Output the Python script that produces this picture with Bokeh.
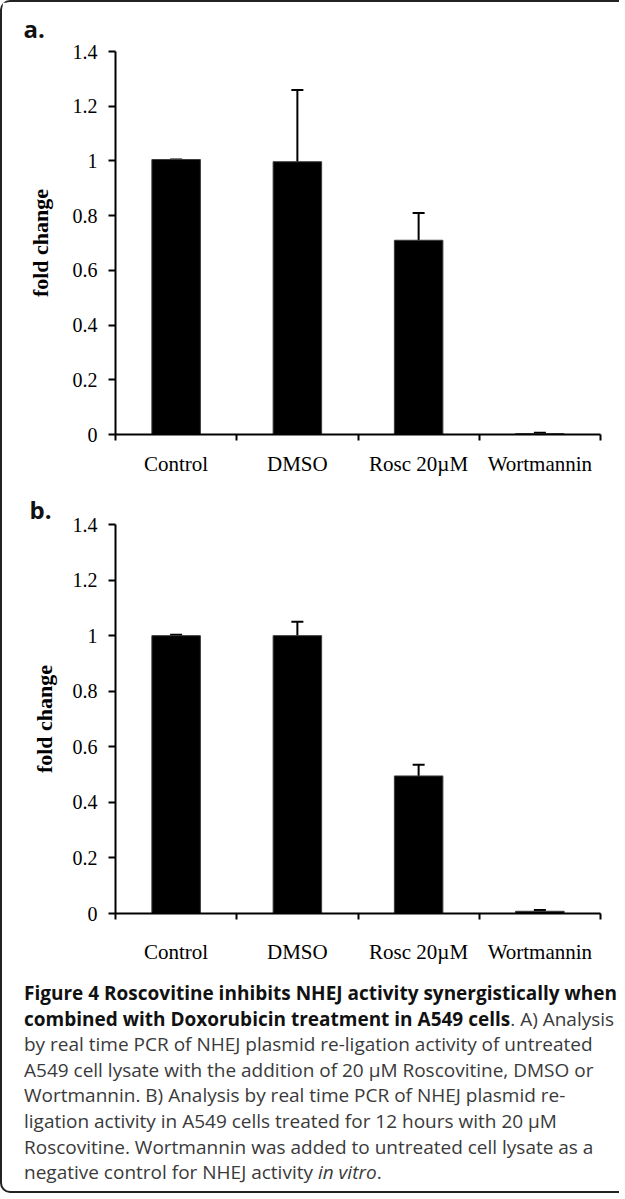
from bokeh.plotting import figure
from bokeh.models import (ColumnDataSource, Whisker, TeeHead, FixedTicker, Range1d,
                          Div, CustomJSTickFormatter, InlineStyleSheet)
from bokeh.layouts import column
from bokeh.embed import file_html
from bokeh.resources import INLINE

# ---- data ----
categories = ["Control", "DMSO", "Rosc 20\u00b5M", "Wortmannin"]
values_a = [1.005, 0.997, 0.71, 0.003]
errors_a = [0.0, 0.262, 0.10, 0.003]
values_b = [1.0, 1.0, 0.495, 0.008]
errors_b = [0.003, 0.05, 0.04, 0.005]
y_ticks = [0, 0.2, 0.4, 0.6, 0.8, 1.0, 1.2, 1.4]
y_label = "fold change"
panel_labels = ["a.", "b."]

caption_bold = ["Figure 4 Roscovitine inhibits NHEJ activity synergistically when",
                "combined with Doxorubicin treatment in A549 cells"]
caption_lines = [
    ". A) Analysis",
    "by real time PCR of NHEJ plasmid re-ligation activity of untreated",
    "A549 cell lysate with the addition of 20 \u00b5M Roscovitine, DMSO or",
    "Wortmannin. B) Analysis by real time PCR of NHEJ plasmid re-",
    "ligation activity in A549 cells treated for 12 hours with 20 \u00b5M",
    "Roscovitine. Wortmannin was added to untreated cell lysate as a",
    "negative control for NHEJ activity ",
]
caption_italic = "in vitro"

SERIF = "Liberation Serif"


def make_chart(vals, errs, panel, height, left, right, top, bottom,
               xl_standoff, yl_standoff, ax_standoff, title_standoff):
    n = len(categories)
    src = ColumnDataSource(dict(
        x=[i + 0.5 for i in range(n)],
        top=vals,
        upper=[v + e for v, e in zip(vals, errs)],
    ))
    p = figure(width=607, height=height, x_range=Range1d(0, n), y_range=Range1d(0, 1.4),
               output_backend="svg", toolbar_location=None,
               min_border_left=left, min_border_right=right,
               min_border_top=top, min_border_bottom=bottom)
    p.outline_line_color = None
    p.xgrid.visible = False
    p.ygrid.visible = False

    # panel letter as the (left aligned) title
    p.title.text = panel
    p.title.align = "left"
    p.title.offset = 21 - left
    p.title.standoff = title_standoff
    p.title.text_font = "Open Sans"
    p.title.text_font_style = "bold"
    p.title.text_font_size = "24px"
    p.title.text_color = "#111111"

    p.vbar(x="x", top="top", width=0.4, source=src,
           fill_color="black", line_color="#3a3a3a", line_width=1)
    w = Whisker(source=src, base="x", upper="upper", lower="top",
                line_color="black", line_width=2,
                upper_head=TeeHead(size=12, line_width=2, line_color="black"),
                lower_head=None)
    p.add_layout(w)

    # x axis: labels at centres, tick marks at category boundaries
    xa = p.xaxis[0]
    xa.ticker = FixedTicker(ticks=[i + 0.5 for i in range(n)],
                            minor_ticks=list(range(n + 1)))
    xa.formatter = CustomJSTickFormatter(args=dict(labels=categories),
                                         code="return labels[Math.floor(tick)];")
    xa.axis_line_width = 2
    xa.axis_line_color = "black"
    xa.major_tick_line_color = None
    xa.major_tick_out = 6
    xa.major_tick_in = 0
    xa.minor_tick_line_color = "black"
    xa.minor_tick_line_width = 2
    xa.minor_tick_out = 6
    xa.minor_tick_in = 0
    xa.major_label_standoff = xl_standoff
    xa.major_label_text_font = SERIF
    xa.major_label_text_font_size = "21px"
    xa.major_label_text_color = "black"

    ya = p.yaxis[0]
    ya.ticker = FixedTicker(ticks=y_ticks)
    ya.formatter = CustomJSTickFormatter(code="return String(Math.round(tick*10)/10);")
    ya.axis_line_width = 2
    ya.axis_line_color = "black"
    ya.major_tick_line_width = 2
    ya.major_tick_line_color = "black"
    ya.major_tick_out = 7
    ya.major_tick_in = 0
    ya.minor_tick_line_color = None
    ya.major_label_standoff = yl_standoff
    ya.major_label_text_font = SERIF
    ya.major_label_text_font_size = "20px"
    ya.major_label_text_color = "black"
    ya.axis_label = y_label
    ya.axis_label_text_font = SERIF
    ya.axis_label_text_font_style = "bold"
    ya.axis_label_text_font_size = "22px"
    ya.axis_label_text_color = "black"
    ya.axis_label_standoff = ax_standoff
    return p


p_a = make_chart(values_a, errors_a, panel_labels[0], 490, 113, 9, 47, 58, 11, 11, 17, 14)
p_b = make_chart(values_b, errors_b, panel_labels[1], 484, 107, 5, 26, 63, 20, 11, 13, -3)

body = ('<b style="color:#111">' + caption_bold[0] + '<br>' + caption_bold[1] + '</b>'
        + caption_lines[0] + '<br>' + '<br>'.join(caption_lines[1:])
        + '<i>' + caption_italic + '</i>.')
cap = Div(text='<div style="font-family:\'Open Sans\';font-size:19px;line-height:25.6px;'
               'color:#3a3a3a;white-space:nowrap;padding-left:17px;">' + body + '</div>',
          width=607, height=205)

frame_css = InlineStyleSheet(css=":host { border-left: 2px solid #222; border-top: 2px solid #222;"
                                 " border-bottom: 2px solid #222; border-radius: 10px 0 0 10px; }")
layout = column(p_a, p_b, cap, spacing=0, stylesheets=[frame_css])

open("out.html", "w").write(file_html(layout, INLINE))
